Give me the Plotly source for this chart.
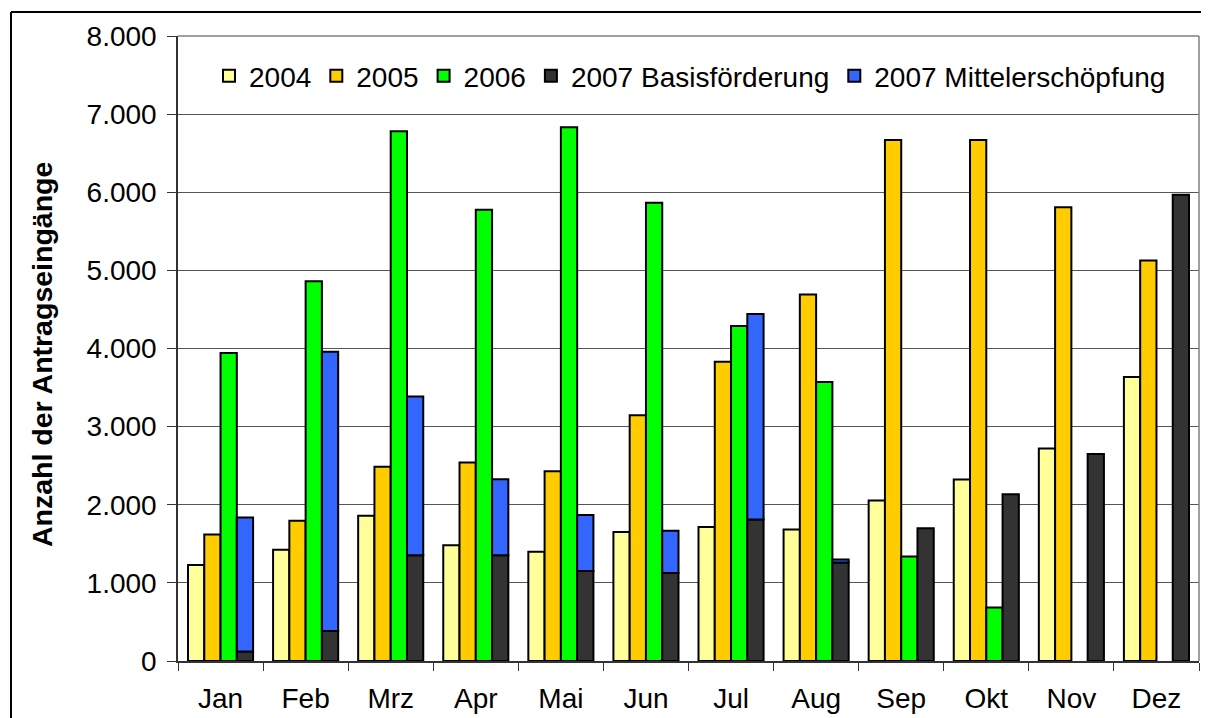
import plotly.graph_objects as go

months = ["Jan", "Feb", "Mrz", "Apr", "Mai", "Jun", "Jul", "Aug", "Sep", "Okt", "Nov", "Dez"]
y2004 = [1230, 1424, 1860, 1482, 1397, 1652, 1716, 1684, 2056, 2322, 2720, 3634]
y2005 = [1620, 1796, 2487, 2540, 2428, 3146, 3831, 4692, 6668, 6668, 5808, 5128]
y2006 = [3943, 4862, 6780, 5776, 6833, 5866, 4288, 3571, 1339, 685, None, None]
basis2007 = [122, 383, 1355, 1355, 1153, 1126, 1812, 1260, 1700, 2136, 2651, 5967]
mittel2007 = [1716, 3576, 2030, 972, 717, 542, 2630, 40, None, None, None, None]

FONT = "Liberation Sans, Arial, sans-serif"
OUT = dict(color="black", width=2)

fig = go.Figure()
fig.add_bar(x=months, y=y2004, name="2004", marker=dict(color="#FFFF99", line=OUT), offsetgroup="a")
fig.add_bar(x=months, y=y2005, name="2005", marker=dict(color="#FFCC00", line=OUT), offsetgroup="b")
fig.add_bar(x=months, y=y2006, name="2006", marker=dict(color="#00FF00", line=OUT), offsetgroup="c")
fig.add_bar(x=months, y=basis2007, name="2007 Basisförderung", marker=dict(color="#333333", line=OUT), offsetgroup="d")
fig.add_bar(x=months, y=mittel2007, base=basis2007, name="2007 Mittelerschöpfung",
            marker=dict(color="#3366FF", line=OUT), offsetgroup="d")

# page is offset by the 8px body margin
OFF = 8
W, H = 1209 - OFF, 718 - OFF
L, T = 178 - OFF, 36 - OFF
R = W - (1199 - OFF)
B = H - (661 - OFF)
pw, ph = W - L - R, H - T - B

def px(x):
    return (x - OFF - L) / pw

def py(y):
    return (H - B - (y - OFF)) / ph

shapes = [
    dict(type="line", xref="paper", yref="paper", x0=0, x1=1, y0=1, y1=1, line=dict(color="#808080", width=1.5)),
    dict(type="line", xref="paper", yref="paper", x0=1, x1=1, y0=0, y1=1, line=dict(color="#808080", width=1.5)),
    dict(type="line", xref="paper", yref="paper", x0=px(11), x1=px(1215), y0=py(12), y1=py(12), line=dict(color="black", width=2)),
    dict(type="line", xref="paper", yref="paper", x0=px(11), x1=px(11), y0=py(12), y1=py(725), line=dict(color="black", width=2)),
]

annotations = [
    dict(text="<b>Anzahl der Antragseingänge</b>", textangle=-90, xref="paper", yref="paper",
         x=px(42), y=py(355), xanchor="center", yanchor="middle", showarrow=False,
         font=dict(size=28.5, family=FONT, color="black")),
]

fig.update_layout(
    width=W, height=H,
    margin=dict(l=L, r=R, t=T, b=B, pad=0),
    paper_bgcolor="white", plot_bgcolor="white",
    barmode="group", bargap=0.235, bargroupgap=0,
    separators=",.",
    font=dict(family=FONT, size=28, color="black"),
    showlegend=True,
    legend=dict(orientation="h", x=px(690), xanchor="center", y=py(76), yanchor="middle",
                bgcolor="rgba(0,0,0,0)", font=dict(size=28), traceorder="normal",
                itemclick=False),
    shapes=shapes,
    annotations=annotations,
    xaxis=dict(type="category", showline=True, linecolor="#333333", linewidth=1.5,
               ticks="outside", tickson="boundaries", ticklen=8, tickcolor="#333333",
               tickfont=dict(size=28), ticklabelstandoff=12, showgrid=False, automargin=False),
    yaxis=dict(range=[0, 8000], dtick=1000, tickformat=",d", showline=True,
               linecolor="#333333", linewidth=1.5, ticks="outside", ticklen=9,
               tickcolor="#333333", showgrid=True, gridcolor="#555555", gridwidth=1,
               tickfont=dict(size=28), ticklabelstandoff=5, zeroline=False, automargin=False),
)

fig.write_html("out.html")
